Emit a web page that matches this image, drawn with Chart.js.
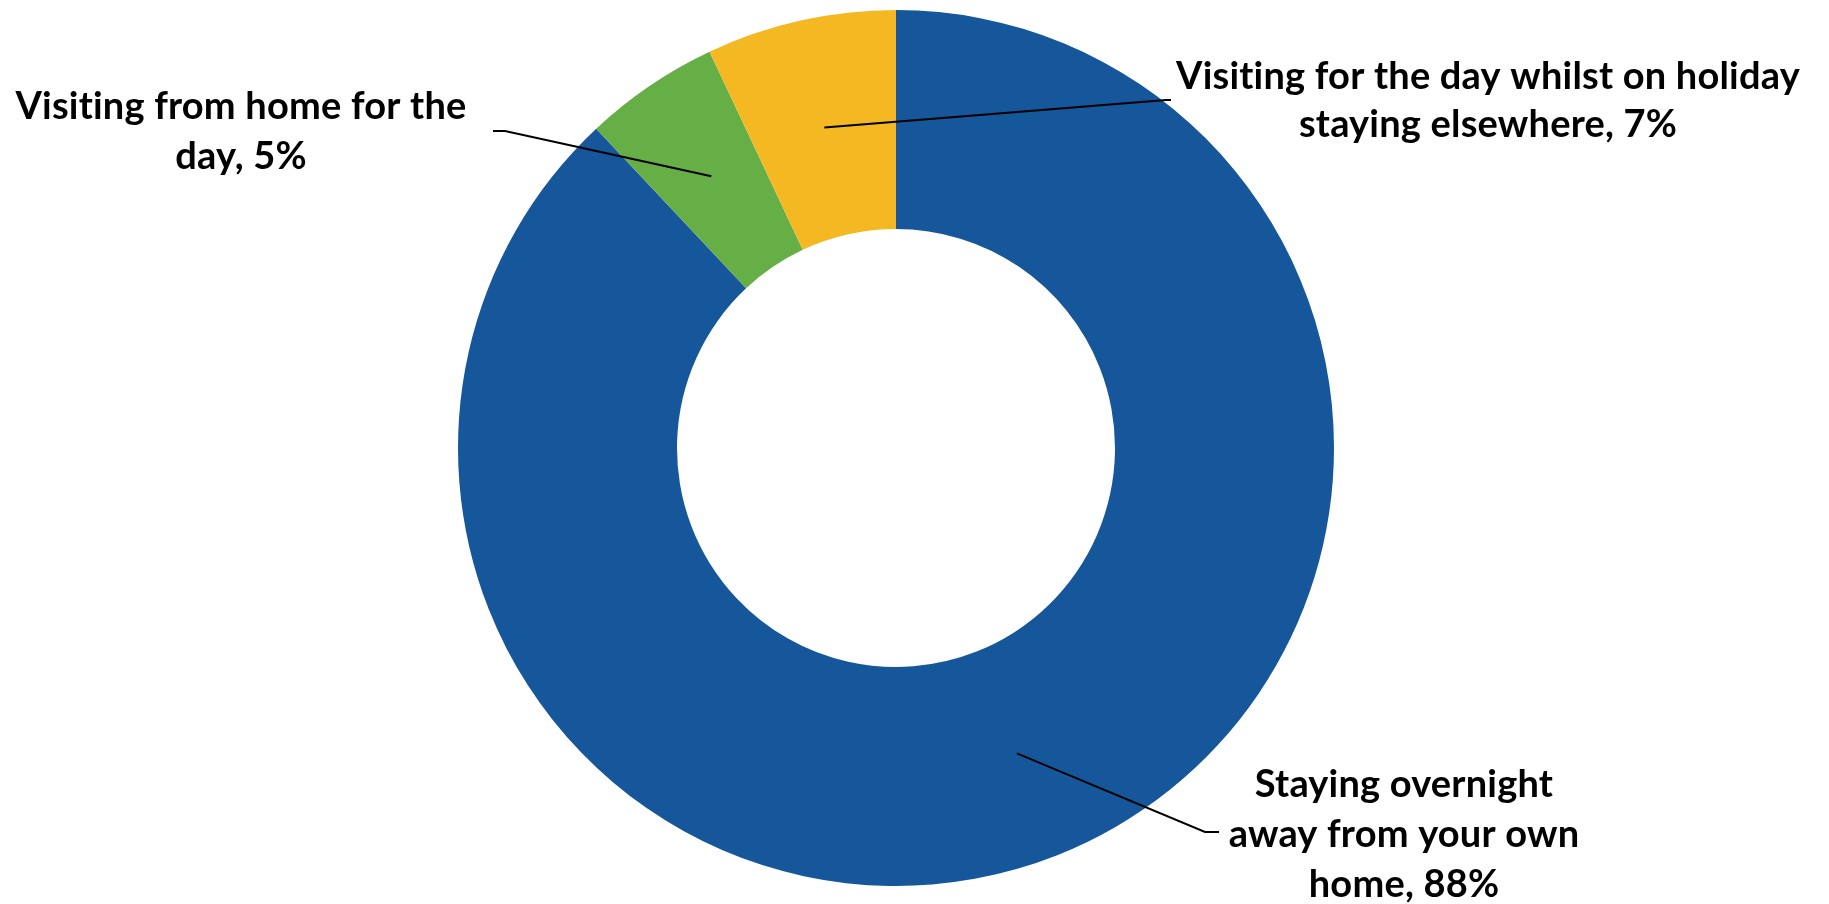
<!DOCTYPE html>
<html>
<head>
<meta charset="utf-8">
<script src="https://cdn.jsdelivr.net/npm/chart.js@4/dist/chart.umd.min.js"></script>
<style>
  html, body { margin: 0; padding: 0; background: #ffffff; }
  #wrap { width: 1829px; height: 904px; position: relative; }
</style>
</head>
<body>
<div id="wrap"><canvas id="chart"></canvas></div>
<script>
// Visitor type shares (percent)
const categories = [
  ['Staying overnight', 'away from your own', 'home'],
  ['Visiting from home for the', 'day'],
  ['Visiting for the day whilst on holiday', 'staying elsewhere']
];
const shares = [88, 5, 7];
const sliceColors = ['#15579A', '#66AE46', '#F4B823'];

// Where each callout sits: elbow of the leader line, end of its short
// horizontal tail, and the centre/baseline of the text block.
const callouts = [
  { elbow: [1205, 832], tail: [1219, 832], textX: 1404, firstY: 785, lineGap: 50 },
  { elbow: [505, 131],  tail: [493, 131],  textX: 241,  firstY: 107, lineGap: 50 },
  { elbow: [1166, 100], tail: [1171, 100], textX: 1488, firstY: 77,  lineGap: 48 }
];

const labelFont = 'bold 38px Lato, "Open Sans", sans-serif';

const calloutPlugin = {
  id: 'callouts',
  afterDatasetsDraw(chart) {
    const ctx = chart.ctx;
    const meta = chart.getDatasetMeta(0);
    meta.data.forEach((arc, i) => {
      const c = callouts[i];
      const p = arc.getCenterPoint();
      ctx.save();
      ctx.strokeStyle = '#000000';
      ctx.lineWidth = 2;
      ctx.beginPath();
      ctx.moveTo(p.x, p.y);
      ctx.lineTo(c.elbow[0], c.elbow[1]);
      ctx.lineTo(c.tail[0], c.tail[1]);
      ctx.stroke();

      const lines = categories[i].slice();
      lines[lines.length - 1] += ', ' + shares[i] + '%';
      ctx.fillStyle = '#000000';
      ctx.font = labelFont;
      // a tiny spacing keeps the "ti" pair from fusing into a ligature
      if ('letterSpacing' in ctx) ctx.letterSpacing = '0.2px';
      ctx.textAlign = 'center';
      ctx.textBaseline = 'middle';
      lines.forEach((t, k) => {
        ctx.fillText(t, c.textX, c.firstY + k * c.lineGap);
      });
      ctx.restore();
    });
  }
};

new Chart(document.getElementById('chart'), {
  type: 'doughnut',
  data: {
    labels: categories.map(l => l.join(' ')),
    datasets: [{
      data: shares,
      backgroundColor: sliceColors,
      borderWidth: 0,
      hoverOffset: 0
    }]
  },
  options: {
    responsive: true,
    maintainAspectRatio: false,
    animation: false,
    cutout: '50%',
    layout: { padding: { top: 10, bottom: 18, left: 0, right: 37 } },
    plugins: {
      legend: { display: false },
      tooltip: { enabled: false }
    }
  },
  plugins: [calloutPlugin]
});
</script>
</body>
</html>
